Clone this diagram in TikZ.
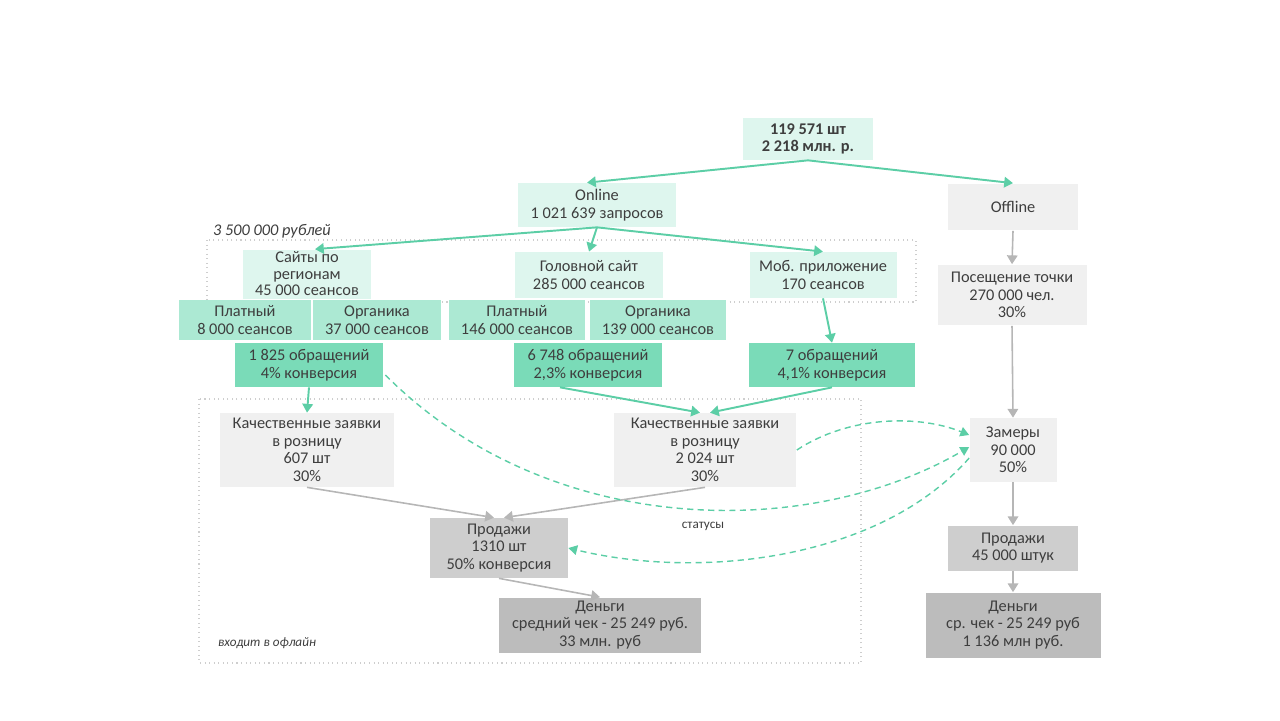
\documentclass[tikz,border=0pt]{standalone}
\usepackage{fontspec}
\setmainfont{Carlito}
\usetikzlibrary{arrows.meta}
\usetikzlibrary{calc}

\definecolor{mintA}{RGB}{222,246,238}
\definecolor{mintB}{RGB}{172,233,211}
\definecolor{mintC}{RGB}{122,219,184}
\definecolor{mintL}{RGB}{92,206,166}
\definecolor{greyA}{RGB}{240,240,240}
\definecolor{greyB}{RGB}{206,206,206}
\definecolor{greyC}{RGB}{188,188,188}
\definecolor{greyL}{RGB}{182,182,182}
\definecolor{txt}{RGB}{62,62,62}
\newcommand{\fs}{\fontsize{9.3}{10}\selectfont}

\begin{document}
\begin{tikzpicture}[x=0.02cm, y=-0.02cm,
    every node/.style={font=\fs, text=txt, align=center, inner sep=1pt},
    g1/.style={fill=mintA}, g2/.style={fill=mintB}, g3/.style={fill=mintC},
    s1/.style={fill=greyA}, s2/.style={fill=greyB}, s3/.style={fill=greyC},
    arr/.style={draw=mintL, line width=1.1pt, -{Triangle[length=5pt,width=6pt]}},
    garr/.style={draw=greyL, line width=0.9pt, -{Triangle[length=5pt,width=6pt]}},
    darr/.style={draw=mintL, line width=0.8pt, dash pattern=on 3.5pt off 2.5pt, -{Triangle[length=5pt,width=5.5pt]}},
    frame/.style={draw=greyB, line width=0.6pt, dotted}]
  \useasboundingbox (0,0) rectangle (1280,720);

  % dotted frames
  \draw[frame] (207,240) rectangle (916,302);
  \draw[frame] (199,399) rectangle (861,663);
  \node[anchor=west, font=\fs\itshape] (budget) at (211,231) {3 500 000 рублей};
  \node[anchor=west, font=\fontsize{7.5}{8}\selectfont\itshape] (offin) at (216,643) {входит в офлайн};

  % online branch
  \node[g1, minimum width=2.6cm, minimum height=0.84cm, font=\fs\bfseries] (total) at (808,139) {119 571 шт\\2 218 млн. р.};
  \node[g1, minimum width=3.18cm, minimum height=0.88cm] (online) at (597,205) {Online\\1 021 639 запросов};
  \node[s1, minimum width=2.6cm, minimum height=0.94cm] (offline) at (1013,207) {Offline};

  \node[g2, minimum width=2.64cm, minimum height=0.8cm] (regpaid) at (245,320) {Платный\\8 000 сеансов};
  \node[g2, minimum width=2.58cm, minimum height=0.8cm] (regorg) at (377,320) {Органика\\37 000 сеансов};
  \node[g2, minimum width=2.74cm, minimum height=0.8cm] (headpaid) at (517,320) {Платный\\146 000 сеансов};
  \node[g2, minimum width=2.74cm, minimum height=0.8cm] (headorg) at (658,320) {Органика\\139 000 сеансов};

  \node[g1, minimum width=2.58cm, minimum height=0.98cm, font=\fontsize{9.3}{9.4}\selectfont] (reg) at (307,274) {Сайты по\\регионам\\45 000 сеансов};
  \node[g1, minimum width=2.96cm, minimum height=0.92cm] (head) at (589,275) {Головной сайт\\285 000 сеансов};
  \node[g1, minimum width=2.94cm, minimum height=0.92cm] (mob) at (823,275) {Моб. приложение\\170 сеансов};

  \node[g3, minimum width=2.96cm, minimum height=0.88cm] (reqreg) at (309,365) {1 825 обращений\\4\% конверсия};
  \node[g3, minimum width=2.96cm, minimum height=0.88cm] (reqhead) at (588,365) {6 748 обращений\\2,3\% конверсия};
  \node[g3, minimum width=3.32cm, minimum height=0.88cm] (reqmob) at (832,365) {7 обращений\\4,1\% конверсия};

  \node[s1, minimum width=3.5cm, minimum height=1.48cm] (leadreg) at (307,450) {Качественные заявки\\в розницу\\607 шт\\30\%};
  \node[s1, minimum width=3.66cm, minimum height=1.48cm] (leadhead) at (705,450) {Качественные заявки\\в розницу\\2 024 шт\\30\%};
  \node[s2, minimum width=2.76cm, minimum height=1.2cm] (sales) at (499,548) {Продажи\\1310 шт\\50\% конверсия};
  \node[s3, minimum width=4.06cm, minimum height=1.1cm] (money) at (600,625) {Деньги\\средний чек - 25 249 руб.\\33 млн. руб};

  % offline branch
  \node[s1, minimum width=2.98cm, minimum height=1.22cm] (visit) at (1012,295) {Посещение точки\\270 000 чел.\\30\%};
  \node[s1, minimum width=1.74cm, minimum height=1.28cm] (meas) at (1013,450) {Замеры\\90 000\\50\%};
  \node[s2, minimum width=2.6cm, minimum height=0.9cm] (osales) at (1013,548) {Продажи\\45 000 штук};
  \node[s3, minimum width=3.5cm, minimum height=1.3cm] (omoney) at (1013,625) {Деньги\\ср. чек - 25 249 руб\\1 136 млн руб.};

  \node[font=\fontsize{7.5}{8}\selectfont] (status) at (703,526) {статусы};

  % green arrows
  \draw[arr] (total.south) -- ($(online.north)+(-10,0)$);
  \draw[arr] (total.south) -- (offline.north);
  \draw[arr] (online.south) -- ($(reg.north)+(8,0)$);
  \draw[arr] (online.south) -- (head.north);
  \draw[arr] (online.south) -- (mob.north);
  \draw[arr] (mob.south) -- (reqmob.north);
  \draw[arr] (reqreg.south) -- (leadreg.north);
  \draw[arr] ($(reqhead.south)+(-28,0)$) -- ($(leadhead.north)+(-5,0)$);
  \draw[arr] (reqmob.south) -- ($(leadhead.north)+(5,0)$);

  % grey arrows
  \draw[garr] (leadreg.south) -- ($(sales.north)+(-5,0)$);
  \draw[garr] (leadhead.south) -- ($(sales.north)+(5,0)$);
  \draw[garr] (sales.south) -- (money.north);
  \draw[garr] (offline.south) -- (visit.north);
  \draw[garr] (visit.south) -- (meas.north);
  \draw[garr] (meas.south) -- (osales.north);
  \draw[garr] (osales.south) -- (omoney.north);

  % dashed feedback
  \draw[darr] ($(reqreg.east)+(2,10)$) .. controls (550,540) and (810,540) .. ($(meas.west)+(0,-3)$);
  \draw[darr] (leadhead.east) .. controls (850,415) and (920,415) .. ($(meas.west)+(0,-15)$);
  \draw[darr] ($(meas.west)+(0,8)$) .. controls (880,560) and (700,580) .. (sales.east);
\end{tikzpicture}
\end{document}
